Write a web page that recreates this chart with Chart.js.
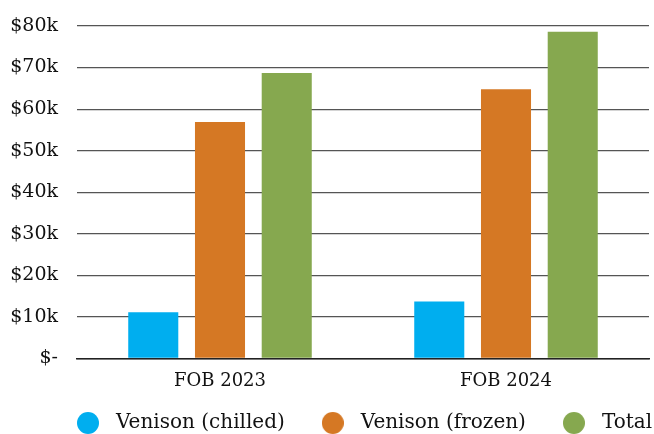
<!DOCTYPE html>
<html>
<head>
<meta charset="utf-8">
<style>
  body { margin: 0; background: #fff; }
</style>
<script src="https://cdn.jsdelivr.net/npm/chart.js@4"></script>
</head>
<body>
<canvas id="fobChart" width="654" height="434"></canvas>
<script>
// данные графика
const CATEGORIES = ["FOB 2023", "FOB 2024"]
const CHILLED = [11100, 13700]
const FROZEN = [56900, 64800]
const TOTAL = [68700, 78600]
const SERIES_NAMES = ["Venison (chilled)", "Venison (frozen)", "Total"]
const COLORS = ["#00aeef", "#d57824", "#86a84f"]

const FONT = "'DejaVu Serif', serif"
const LEGEND_SIZE = 20


// подпись оси
function money(value) {
  if (value === 0) return "$-"
  return "$" + value / 1000 + "k"
}


// кружок для легенды
function dot(color) {
  const c = document.createElement("canvas")
  c.width = 22
  c.height = 22
  const ctx = c.getContext("2d")
  ctx.fillStyle = color
  ctx.beginPath()
  ctx.arc(11, 11, 11, 0, Math.PI * 2)
  ctx.fill()
  return c
}


// двигаем легенду под область графика, в одну строку
const legendShift = {
  id: "legendShift",
  afterLayout(chart) {
    const legend = chart.legend
    const pad = legend.options.labels.padding
    legend.left = chart.chartArea.left - 7 - pad
    legend.right = 900
    legend.top = 423 - pad - LEGEND_SIZE / 2
  },
}


new Chart(document.getElementById("fobChart"), {
  type: "bar",
  data: {
    labels: CATEGORIES,
    datasets: [CHILLED, FROZEN, TOTAL].map(function (values, i) {
      return {
        label: SERIES_NAMES[i],
        data: values,
        backgroundColor: COLORS[i],
        pointStyle: dot(COLORS[i]),
        categoryPercentage: 0.7,
        barPercentage: 0.75,
      }
    }),
  },
  options: {
    responsive: false,
    animation: false,
    layout: { padding: { top: 26, right: 5, left: -10, bottom: -30 } },
    plugins: {
      tooltip: { enabled: false },
      legend: {
        position: "bottom",
        align: "start",
        labels: {
          usePointStyle: true,
          pointStyleWidth: 36,
          boxHeight: 16,
          padding: 30,
          color: "#111",
          font: { family: FONT, size: LEGEND_SIZE },
        },
      },
    },
    scales: {
      x: {
        grid: { display: false, drawTicks: false },
        border: { display: true, color: "#222", width: 1.5 },
        ticks: { color: "#111", padding: 12, font: { family: FONT, size: 18 } },
      },
      y: {
        min: 0,
        max: 80000,
        grid: { color: "#555", lineWidth: 1.2, drawTicks: false },
        border: { display: false },
        ticks: {
          stepSize: 10000,
          padding: 19,
          color: "#111",
          font: { family: FONT, size: 19 },
          callback: money,
        },
        afterFit(scale) {
          scale.width = 87
          scale.paddingTop = 0
          scale.paddingBottom = 0
        },
      },
    },
  },
  plugins: [legendShift],
})
</script>
</body>
</html>
